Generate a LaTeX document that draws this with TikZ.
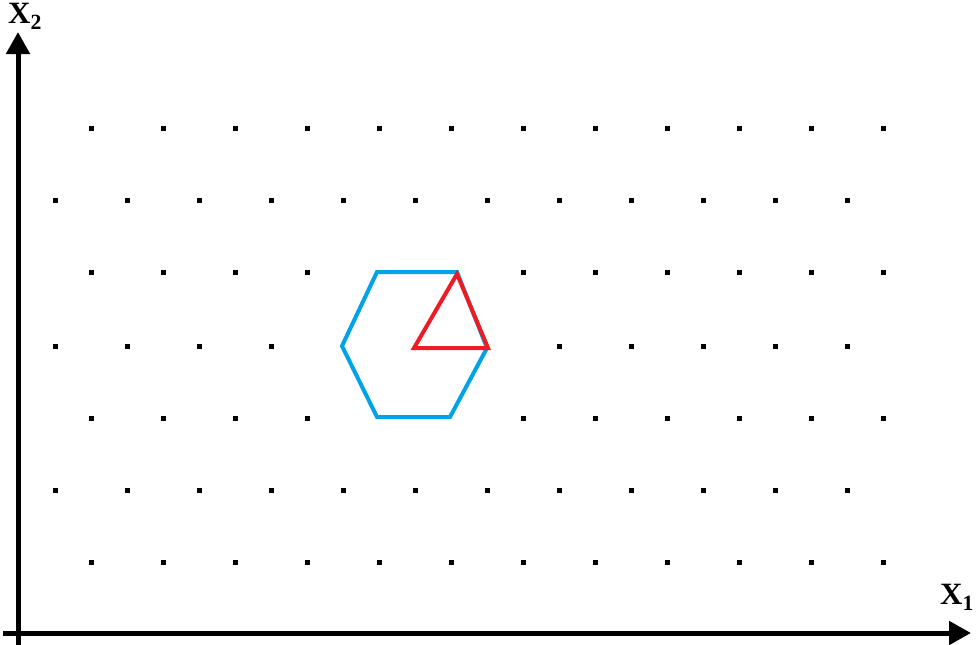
\documentclass[tikz,border=0pt]{standalone}
\usepackage{fontspec}
\setmainfont{Liberation Serif}
\usetikzlibrary{arrows.meta}

\definecolor{bleuhex}{RGB}{0,162,232}
\definecolor{rougetri}{RGB}{237,28,36}

\tikzset{
  axe/.style={line width=5pt, -{Triangle[length=22pt,width=23pt]}},
  etiquette/.style={inner sep=0pt, font=\fontsize{31}{31}\selectfont\bfseries},
  point/.style={fill=black},
  hexa/.style={draw=bleuhex, line width=4pt, line join=miter},
  tri/.style={draw=rougetri, line width=4pt, line join=miter}
}

\begin{document}
\begin{tikzpicture}[x=1pt, y=-1pt]
  \useasboundingbox (0,0) rectangle (978,645);

  % Extremites des axes
  \coordinate (basX2) at (18,645);
  \coordinate (finX2) at (18,32);
  \coordinate (debX1) at (3,633);
  \coordinate (finX1) at (971,633);

  % Axes
  \draw[axe] (basX2) -- (finX2);
  \draw[axe] (debX1) -- (finX1);

  % Noms des axes
  \node[etiquette] (nomX2) at (25,16) {X\textsubscript{2}};
  \node[etiquette] (nomX1) at (957,597) {X\textsubscript{1}};

  % Points du reseau, lignes decalees a droite
  \foreach \y in {128,562}
    \foreach \i in {0,...,11}
      \fill[point] (91+72*\i-2.5,\y-2.5) rectangle ++(5,5);
  \foreach \y in {272,418}
    \foreach \i in {0,...,3,6,7,...,11}
      \fill[point] (91+72*\i-2.5,\y-2.5) rectangle ++(5,5);

  % Points du reseau, lignes decalees a gauche
  \foreach \y in {200,490}
    \foreach \i in {0,...,11}
      \fill[point] (55+72*\i-2.5,\y-2.5) rectangle ++(5,5);
  \foreach \i in {0,...,3,7,8,...,11}
    \fill[point] (55+72*\i-2.5,346-2.5) rectangle ++(5,5);

  % Hexagone bleu
  \draw[hexa] (342,346) -- (377,272) -- (457,272) -- (487,348)
    -- (450,417) -- (377,417) -- cycle;

  % Triangle rouge
  \draw[tri] (414,348) -- (457,274) -- (488,348) -- cycle;
\end{tikzpicture}
\end{document}
